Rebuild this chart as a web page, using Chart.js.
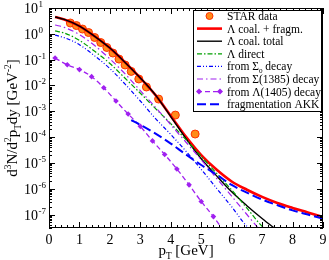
<!DOCTYPE html>
<html><head><meta charset="utf-8">
<script src="https://cdn.jsdelivr.net/npm/chart.js@4/dist/chart.umd.min.js"></script>
<style>html,body{margin:0;padding:0;background:#fff}</style>
</head><body>
<canvas id="c" width="329" height="260"></canvas>
<script>
// ---- data ----
const starPt  = [0.7,0.9,1.1,1.3,1.5,1.7,1.9,2.1,2.3,2.5,2.7,2.95,3.2,3.6,4.15,4.8];
const starVal = [2.62,2.09,1.53,1.12,0.72,0.46,0.295,0.18,0.105,0.062,0.035,0.0178,0.0087,0.00297,0.00071,0.000131];

const curvePt  = [0.2,0.5,1.0,1.5,2.0,2.5,3.0,3.5,4.0,4.5,5.0,5.5,6.0,6.5,7.0,7.5];
const coalTotal = [4.5,3.6,2.0,0.8,0.28,0.078,0.0195,4.2e-3,6.2e-4,8.7e-5,1.45e-5,3.2e-6,7.6e-7,2.2e-7,7e-8,2.4e-8];
const lamDirect = [1.29,1.07,0.56,0.21,0.071,0.019,5.0e-3,1.26e-3,3.3e-4,7.9e-5,1.78e-5,4.0e-6,8.9e-7,1.78e-7,3.5e-8,1.4e-8];
const fromSig0  = [0.89,0.71,0.38,0.14,0.045,0.0112,2.5e-3,5.2e-4,1.26e-4,2.8e-5,5.6e-6,1.05e-6,2.0e-7,3.5e-8,1.26e-8,5e-9];
const fromSig1385 = [2.19,1.78,0.93,0.35,0.107,0.028,6.3e-3,1.41e-3,3.0e-4,6.3e-5,1.32e-5,2.57e-6,5.1e-7,1.0e-7,2.0e-8,5e-9];

const fullPt = [0.2,0.5,1.0,1.5,2.0,2.5,3.0,3.5,4.0,4.5,5.0,5.5,6.0,6.5,7.0,7.5,8.0,8.5,9.0];
const coalFragm = [4.5,3.6,2.0,0.8,0.28,0.078,0.0195,4.2e-3,6.6e-4,1.02e-4,2.0e-5,5.5e-6,1.9e-6,9.1e-7,4.8e-7,2.8e-7,1.8e-7,1.2e-7,7.9e-8];

const akkPt  = [2.7,3.0,3.5,4.0,4.5,5.0,5.5,6.0,6.5,7.0,7.5,8.0,8.5,9.0];
const akkVal = [4.5e-4,3.0e-4,1.35e-4,5.6e-5,2.1e-5,8.3e-6,3.5e-6,1.4e-6,7e-7,3.8e-7,2.3e-7,1.45e-7,1.0e-7,6.9e-8];

const l1405Pt  = [0.2,0.6,1.0,1.4,1.8,2.2,2.6,3.0,3.4,3.8,4.2,4.6,5.0,5.4,5.8];
const l1405Val = [0.115,0.063,0.041,0.0219,8.1e-3,2.5e-3,7.8e-4,2.6e-4,7.1e-5,2.1e-5,5.8e-6,1.41e-6,3.2e-7,8.3e-8,1.8e-8];

const xTicks = [0,1,2,3,4,5,6,7,8,9];
const yTickExp = [-7,-6,-5,-4,-3,-2,-1,0,1];

const VIOLET = '#a020f0';
const SERIF = '"Liberation Serif","Times New Roman",serif';

function pts(xs, ys){ return xs.map((x,i)=>({x:x, y:ys[i]})); }

const lineBase = {showLine:true, pointRadius:0, fill:false, cubicInterpolationMode:'monotone'};

const datasets = [
  Object.assign({}, lineBase, {label:'fragmentation AKK', data:pts(akkPt,akkVal), borderColor:'#0000ff', borderWidth:2, borderDash:[9,4]}),
  Object.assign({}, lineBase, {label:'from Λ(1405) decay', data:pts(l1405Pt,l1405Val), borderColor:VIOLET, borderWidth:1.3, borderDash:[5,3],
      pointRadius:2.8, pointStyle:'rectRot', pointBackgroundColor:VIOLET, pointBorderColor:VIOLET, pointBorderWidth:0}),
  Object.assign({}, lineBase, {label:'from Σ(1385) decay', data:pts(curvePt,fromSig1385), borderColor:VIOLET, borderWidth:1.2, borderDash:[6,3,1.5,3]}),
  Object.assign({}, lineBase, {label:'from Σ0 decay', data:pts(curvePt,fromSig0), borderColor:'#0000ff', borderWidth:1.2, borderDash:[4,2,1,2,1,2]}),
  Object.assign({}, lineBase, {label:'Λ direct', data:pts(curvePt,lamDirect), borderColor:'#00a000', borderWidth:1.2, borderDash:[5,2,1.5,2]}),
  Object.assign({}, lineBase, {label:'Λ coal. total', data:pts(curvePt,coalTotal), borderColor:'#000000', borderWidth:1.4}),
  Object.assign({}, lineBase, {label:'Λ coal. + fragm.', data:pts(fullPt,coalFragm), borderColor:'#ff0000', borderWidth:2.6}),
  {label:'STAR data', data:pts(starPt,starVal), showLine:false, pointRadius:4, pointStyle:'circle',
      pointBackgroundColor:'#ff8c1a', pointBorderColor:'#ff3000', pointBorderWidth:1}
];

function drawRich(ctx, parts, x, y, size, align){
  const small = size*0.62;
  let w = 0;
  const meas = parts.map(p=>{
    ctx.font = (p[1]==='n'? size : small) + 'px ' + SERIF;
    const m = ctx.measureText(p[0]).width; w += m; return m;
  });
  let cx = align==='center' ? x - w/2 : (align==='right' ? x - w : x);
  parts.forEach((p,i)=>{
    ctx.font = (p[1]==='n'? size : small) + 'px ' + SERIF;
    let dy = 0;
    if (p[1]==='sup') dy = -size*0.42;
    if (p[1]==='sub') dy = size*0.25;
    ctx.fillText(p[0], cx, y+dy);
    cx += meas[i];
  });
  return w;
}

const legendItems = [
  {type:'star', parts:[['STAR data','n']]},
  {color:'#ff0000', w:2.6, dash:[], parts:[['Λ coal. + fragm.','n']]},
  {color:'#000', w:1.4, dash:[], parts:[['Λ coal. total','n']]},
  {color:'#00a000', w:1.2, dash:[5,2,1.5,2], parts:[['Λ direct','n']]},
  {color:'#0000ff', w:1.2, dash:[4,2,1,2,1,2], parts:[['from Σ','n'],['0','sub'],[' decay','n']]},
  {color:VIOLET, w:1.2, dash:[6,3,1.5,3], parts:[['from Σ(1385) decay','n']]},
  {color:VIOLET, w:1.3, dash:[5,3], diamonds:true, parts:[['from Λ(1405) decay','n']]},
  {color:'#0000ff', w:2, dash:[9,4], parts:[['fragmentation AKK','n']]}
];

const decor = {
  id:'decor',
  afterDraw(chart){
    const ctx = chart.ctx, a = chart.chartArea;
    const xs = chart.scales.x, ys = chart.scales.y;
    ctx.save();
    ctx.fillStyle = '#000'; ctx.strokeStyle = '#000'; ctx.setLineDash([]);
    ctx.lineWidth = 1;
    ctx.strokeRect(a.left+0.5, a.top+0.5, a.right-a.left-1, a.bottom-a.top-1);
    ctx.beginPath();
    for (let v=0; v<=9.0001; v+=0.2){
      const px = Math.round(xs.getPixelForValue(v))+0.5;
      const major = Math.abs(v-Math.round(v))<1e-6;
      const L = major?6:3;
      ctx.moveTo(px,a.bottom); ctx.lineTo(px,a.bottom-L);
      ctx.moveTo(px,a.top); ctx.lineTo(px,a.top+L);
    }
    for (let e=-8; e<=1; e++){
      for (let m=1; m<=9; m++){
        const v = m*Math.pow(10,e);
        if (v<ys.min*0.999 || v>ys.max*1.001) continue;
        const py = Math.round(ys.getPixelForValue(v))+0.5;
        const L = m===1?6:3;
        ctx.moveTo(a.left,py); ctx.lineTo(a.left+L,py);
        ctx.moveTo(a.right,py); ctx.lineTo(a.right-L,py);
      }
    }
    ctx.stroke();
    ctx.textBaseline = 'alphabetic'; ctx.textAlign='center';
    ctx.font = '14px '+SERIF;
    xTicks.forEach(t=>{ ctx.fillText(String(t), xs.getPixelForValue(t), a.bottom+16); });
    ctx.textAlign='left';
    yTickExp.forEach(e=>{
      const py = ys.getPixelForValue(Math.pow(10,e));
      ctx.font = '14px '+SERIF;
      ctx.fillText('10', 24, py+5);
      ctx.font = '9px '+SERIF;
      ctx.fillText(String(e), 38.5, py-1);
    });
    drawRich(ctx, [['p','n'],['T','sub'],[' [GeV]','n']], 186, 255, 15, 'center');
    ctx.save();
    ctx.translate(17, 118); ctx.rotate(-Math.PI/2);
    drawRich(ctx, [['d','n'],['3','sup'],['N/d','n'],['2','sup'],['p','n'],['T','sub'],['dy [GeV','n'],['-2','sup'],[']','n']], 0, 0, 15, 'center');
    ctx.restore();
    const lx0 = 193, ly0 = a.top+2, lx1 = a.right-1, ly1 = 112;
    ctx.fillStyle='#fff'; ctx.fillRect(lx0, ly0, lx1-lx0, ly1-ly0);
    ctx.strokeStyle='#000'; ctx.lineWidth=1;
    ctx.strokeRect(lx0+0.5, ly0+0.5, lx1-lx0-1, ly1-ly0-1);
    legendItems.forEach((it,i)=>{
      const cy = 16 + i*12.6;
      const sx0 = 197, sx1 = 222;
      if (it.type==='star'){
        ctx.beginPath(); ctx.arc((sx0+sx1)/2, cy, 3.5, 0, Math.PI*2);
        ctx.fillStyle='#ff8c1a'; ctx.fill(); ctx.strokeStyle='#ff3000'; ctx.lineWidth=1; ctx.stroke();
      } else {
        ctx.strokeStyle=it.color; ctx.lineWidth=it.w; ctx.setLineDash(it.dash);
        ctx.beginPath(); ctx.moveTo(sx0, cy); ctx.lineTo(sx1, cy); ctx.stroke();
        ctx.setLineDash([]);
        if (it.diamonds){
          ctx.fillStyle=it.color;
          [sx0+2, sx1-2].forEach(dx=>{
            ctx.beginPath(); ctx.moveTo(dx,cy-3); ctx.lineTo(dx+3,cy); ctx.lineTo(dx,cy+3); ctx.lineTo(dx-3,cy); ctx.closePath(); ctx.fill();
          });
        }
      }
      ctx.fillStyle='#000'; ctx.textAlign='left';
      drawRich(ctx, it.parts, 227, cy+4, 11.5, 'left');
    });
    ctx.restore();
  }
};

new Chart(document.getElementById('c'), {
  type:'scatter',
  data:{datasets:datasets},
  options:{
    responsive:false, animation:false, devicePixelRatio:1,
    layout:{padding:{left:49, right:6, top:8, bottom:32}},
    plugins:{legend:{display:false}, tooltip:{enabled:false}},
    scales:{
      x:{type:'linear', min:0, max:9, display:false},
      y:{type:'logarithmic', min:3e-8, max:10, display:false}
    }
  },
  plugins:[decor]
});
</script>
</body></html>
